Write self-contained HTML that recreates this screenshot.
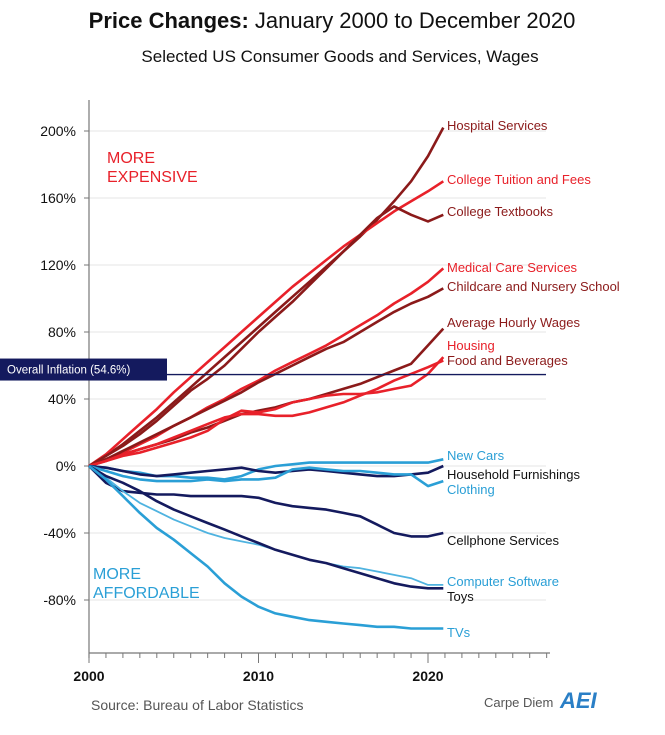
<!DOCTYPE html>
<html><head><meta charset="utf-8"><style>
body{margin:0;background:#fff;}
svg{display:block;font-family:"Liberation Sans",sans-serif;}
</style></head><body>
<svg id="chart" width="665" height="735">
<text x="332" y="28" text-anchor="middle" font-size="22" fill="#111"><tspan font-weight="bold">Price Changes:</tspan> January 2000 to December 2020</text>
<text x="340" y="62" text-anchor="middle" font-size="17" fill="#111">Selected US Consumer Goods and Services, Wages</text>
<g id="grid"></g><g id="axes"></g><g id="series"></g><g id="labels"></g>
<text x="107" y="163" font-size="16" fill="#e8212a">MORE</text>
<text x="107" y="182" font-size="16" fill="#e8212a">EXPENSIVE</text>
<text x="93" y="579" font-size="16" fill="#2a9fd6">MORE</text>
<text x="93" y="598" font-size="16" fill="#2a9fd6">AFFORDABLE</text>
<text x="91" y="710" font-size="14" fill="#555">Source: Bureau of Labor Statistics</text>
<text x="484" y="707" font-size="13" fill="#555">Carpe Diem</text>
<text x="560" y="708" font-size="22" font-weight="bold" font-style="italic" fill="#2a7fc6">AEI</text>
</svg>
<script>
const years=[2000,2001,2002,2003,2004,2005,2006,2007,2008,2009,2010,2011,2012,2013,2014,2015,2016,2017,2018,2019,2020,2020.9];
const yTicks=[200,160,120,80,40,0,-40,-80];
const yTickLabels=["200%","160%","120%","80%","40%","0%","-40%","-80%"];
const xTickYears=[2000,2010,2020];
const inflation=54.6;
const names=["Hospital Services","College Tuition and Fees","College Textbooks","Medical Care Services","Childcare and Nursery School","Average Hourly Wages","Housing","Food and Beverages","New Cars","Household Furnishings","Clothing","Cellphone Services","Computer Software","Toys","TVs"];
const hospital=[0,6,13,21,29,38,47,56,65,74,83,92,101,110,119,128,137,147,158,170,185,202];
const tuition=[0,7,16,25,34,44,53,62,71,80,89,98,107,115,123,131,138,145,152,158,164,170];
const textbooks=[0,6,12,19,27,36,45,52,60,70,80,89,98,108,118,128,138,148,155,150,146,150];
const medical=[0,4,8,13,18,24,29,35,40,46,51,57,62,67,72,78,84,90,97,103,110,118];
const childcare=[0,4,9,14,19,24,29,34,39,44,50,55,60,65,70,74,80,86,92,97,101,106];
const wages=[0,4,7,10,13,16,20,23,27,31,33,35,38,40,43,46,49,53,57,61,72,82];
const housing=[0,3,7,10,13,17,21,25,29,31,31,30,30,32,35,38,42,46,51,55,59,63];
const food=[0,3,6,8,11,14,17,21,28,33,32,34,38,40,42,43,43,44,46,48,55,65];
const newCars=[0,-1,-3,-4,-6,-6,-7,-7,-8,-6,-2,0,1,2,2,2,2,2,2,2,2,4];
const furnishings=[0,-1,-3,-5,-6,-5,-4,-3,-2,-1,-3,-4,-3,-2,-3,-4,-5,-6,-6,-5,-4,0];
const clothing=[0,-3,-6,-8,-9,-9,-9,-8,-9,-8,-8,-7,-2,-1,-2,-3,-3,-4,-5,-5,-12,-9];
const cellphone=[0,-10,-15,-16,-17,-17,-18,-18,-18,-18,-19,-22,-24,-25,-26,-28,-30,-35,-40,-42,-42,-40];
const software=[0,-7,-15,-22,-27,-32,-36,-40,-43,-45,-47,-50,-53,-56,-58,-60,-61,-63,-65,-67,-71,-71];
const toys=[0,-6,-10,-15,-21,-26,-30,-34,-38,-42,-46,-50,-53,-56,-58,-61,-64,-67,-70,-72,-73,-73];
const tvs=[0,-8,-18,-28,-37,-44,-52,-60,-70,-78,-84,-88,-90,-92,-93,-94,-95,-96,-96,-97,-97,-97];
const seriesData=[hospital,tuition,textbooks,medical,childcare,wages,housing,food,newCars,furnishings,clothing,cellphone,software,toys,tvs];
const colors=["#8b1a1a","#e8212a","#8b1a1a","#e8212a","#8b1a1a","#8b1a1a","#e8212a","#e8212a","#2a9fd6","#141a5e","#2a9fd6","#141a5e","#4fb3e0","#141a5e","#2a9fd6"];
const labelY=[130,184,216,272,291,327,350,365,460,479,494,545,586,601,637];
const labelColors=["#8b1a1a","#e8212a","#8b1a1a","#e8212a","#8b1a1a","#8b1a1a","#e8212a","#8b1a1a","#2a9fd6","#111","#2a9fd6","#111","#2a9fd6","#111","#2a9fd6"];

const NS="http://www.w3.org/2000/svg";
const X=y=>89+(y-2000)*16.95;
const Y=v=>466-v*1.675;
function mk(t,a,p){const e=document.createElementNS(NS,t);for(const k in a)e.setAttribute(k,a[k]);document.getElementById(p).appendChild(e);return e;}
yTicks.forEach((v,i)=>{
 const g=mk("line",{x1:89,x2:546,y1:Y(v),y2:Y(v),stroke:"#e6e6e6","stroke-width":1},"grid");
 
 
 mk("line",{x1:84,x2:89,y1:Y(v),y2:Y(v),stroke:"#777"},"axes");
 const t=mk("text",{x:76,y:Y(v)+5,"text-anchor":"end","font-size":14,fill:"#111"},"axes");
 t.textContent=yTickLabels[i];
 
 
});
mk("line",{x1:89,x2:89,y1:100,y2:658,stroke:"#777","stroke-width":1.2},"axes");
mk("line",{x1:89,x2:550,y1:653,y2:653,stroke:"#777","stroke-width":1.2},"axes");
for(let yr=2000;yr<=2027;yr++){mk("line",{x1:X(yr),x2:X(yr),y1:653,y2:yr%10==0?663:658,stroke:"#777"},"axes");}
xTickYears.forEach(yr=>{const t=mk("text",{x:X(yr),y:681,"text-anchor":"middle","font-size":14,"font-weight":"bold",fill:"#111"},"axes");t.textContent=yr;
 
 });
seriesData.forEach((d,i)=>{
 const pts=d.map((v,j)=>X(years[j]).toFixed(1)+","+Y(v).toFixed(1)).join(" ");
 const p=mk("polyline",{points:pts,fill:"none",stroke:colors[i],"stroke-width":i==12?1.8:2.6,"stroke-linejoin":"round"},"series");
 
 
 const t=mk("text",{x:447,y:labelY[i],"font-size":13,fill:labelColors[i]},"labels");
 t.textContent=names[i];
 
 
});
const il=mk("line",{x1:20,x2:546,y1:Y(inflation),y2:Y(inflation),stroke:"#141a5e","stroke-width":1.3},"series");


const ib=mk("rect",{x:0,y:Y(inflation)-16,width:167,height:22,fill:"#141a5e"},"series");


const it=mk("text",{x:7,y:Y(inflation)-1,"font-size":11.5,fill:"#fff"},"series");
it.textContent="Overall Inflation (54.6%)";


</script>
</body></html>
